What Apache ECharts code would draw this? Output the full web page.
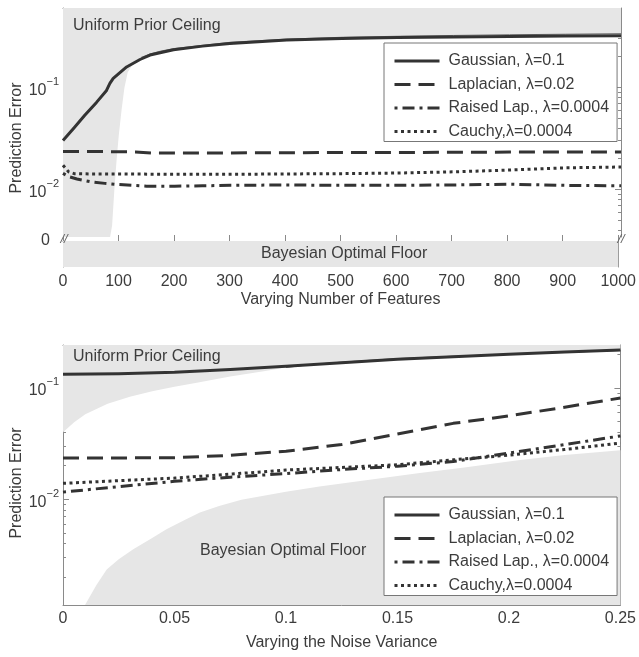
<!DOCTYPE html>
<html><head><meta charset="utf-8">
<script src="https://cdn.jsdelivr.net/npm/echarts@6/dist/echarts.min.js"></script>
<style>html,body{margin:0;padding:0;background:#fff}#c{width:639px;height:657px}</style>
</head><body><div id="c"></div>
<script>
// ---------- data ----------
const seriesNames = ['Gaussian, λ=0.1', 'Laplacian, λ=0.02', 'Raised Lap., λ=0.0004', 'Cauchy,λ=0.0004'];

// Top panel: varying number of features
const featX_gauss = [0, 20, 39, 60, 78, 84, 90, 114, 138, 156, 198, 250, 299, 401, 500, 600, 700, 800, 900, 1000];
const featGauss   = [0.030, 0.040, 0.053, 0.071, 0.093, 0.109, 0.122, 0.158, 0.187, 0.207, 0.233, 0.253, 0.269, 0.290, 0.300, 0.307, 0.311, 0.315, 0.318, 0.320];
const featX_lap   = [0, 50, 100, 130, 160, 200, 300, 400, 500, 600, 700, 800, 900, 1000];
const featLap     = [0.0234, 0.0234, 0.0233, 0.0232, 0.0226, 0.0226, 0.0227, 0.0228, 0.0229, 0.0229, 0.0230, 0.0231, 0.0232, 0.0232];
const featX_ral   = [0, 10, 25, 50, 75, 100, 150, 200, 250, 300, 400, 500, 600, 700, 800, 900, 1000];
const featRaised  = [0.0143, 0.0133, 0.0126, 0.0118, 0.0114, 0.0111, 0.0107, 0.0107, 0.0108, 0.0109, 0.0110, 0.0109, 0.0109, 0.0110, 0.0112, 0.0109, 0.0108];
const featX_cau   = [0, 10, 20, 50, 100, 200, 300, 400, 500, 600, 700, 800, 900, 1000];
const featCauchy  = [0.0172, 0.0148, 0.0142, 0.0141, 0.0141, 0.0140, 0.0140, 0.0141, 0.0142, 0.0144, 0.0148, 0.0154, 0.0162, 0.0165];
const featX_ceil  = [0, 84, 88, 92, 96, 100, 105, 110, 116, 125, 140, 156, 175, 200, 300, 400, 500, 600, 700, 800, 900, 1000];
const featCeiling = [0.003, 0.0033, 0.0044, 0.0098, 0.0192, 0.034, 0.060, 0.098, 0.140, 0.168, 0.196, 0.212, 0.226, 0.240, 0.276, 0.296, 0.309, 0.316, 0.322, 0.327, 0.331, 0.335];
const featX_floor = [0, 1000];
const featFloor   = [0, 0];

// Bottom panel: varying the noise variance
const noiseX      = [0, 0.025, 0.05, 0.075, 0.1, 0.125, 0.15, 0.175, 0.2, 0.225, 0.25];
const noiseGauss  = [0.132, 0.134, 0.138, 0.146, 0.156, 0.168, 0.180, 0.190, 0.200, 0.209, 0.218];
const noiseLap    = [0.0235, 0.0235, 0.0236, 0.0248, 0.0270, 0.0310, 0.0385, 0.0480, 0.0560, 0.0670, 0.0810];
const noiseRaised = [0.0116, 0.0130, 0.0145, 0.0158, 0.0170, 0.0185, 0.0198, 0.0218, 0.0260, 0.0310, 0.0370];
const noiseCauchy = [0.0139, 0.0147, 0.0155, 0.0168, 0.0183, 0.0193, 0.0204, 0.0226, 0.0249, 0.0280, 0.0320];
const noiseX_ceil  = [0, 0.005, 0.01, 0.02, 0.03, 0.04, 0.05, 0.06, 0.075, 0.09, 0.1, 0.11, 0.125, 0.15, 0.175, 0.2, 0.225, 0.25];
const noiseCeiling = [0.040, 0.049, 0.058, 0.072, 0.083, 0.093, 0.102, 0.111, 0.126, 0.141, 0.152, 0.161, 0.170, 0.183, 0.192, 0.200, 0.208, 0.216];
const noiseX_floor = [0.0098, 0.015, 0.0196, 0.025, 0.0315, 0.04, 0.0464, 0.055, 0.0614, 0.07, 0.08, 0.1, 0.115, 0.13, 0.16, 0.18, 0.205, 0.225, 0.25];
const noiseFloor   = [0.00112, 0.0017, 0.00235, 0.0029, 0.00356, 0.0045, 0.0054, 0.0066, 0.0076, 0.0087, 0.0099, 0.0117, 0.0130, 0.0143, 0.0172, 0.0193, 0.0225, 0.0250, 0.0276];

// tick values
const topMajor    = [0.01, 0.1];
const topMinor    = [0.004, 0.005, 0.006, 0.007, 0.008, 0.009, 0.02, 0.03, 0.04, 0.05, 0.06, 0.07, 0.08, 0.09, 0.2, 0.3, 0.4, 0.5];
const botMajor    = [0.01, 0.1];
const botMinor    = [0.002, 0.003, 0.004, 0.005, 0.006, 0.007, 0.008, 0.009, 0.02, 0.03, 0.04, 0.05, 0.06, 0.07, 0.08, 0.09, 0.2];

// ---------- styling ----------
const FONT = "'Liberation Sans', Arial, sans-serif";
const TXT = '#3c3c3c';
const AX = '#8a8a8a';
const LINE = '#333333';
const FILL = '#e6e6e6';
const styles = [
  {width: 3, type: 'solid'},
  {width: 3, type: [16, 8]},
  {width: 3, type: [3, 5, 12, 5]},
  {width: 3, type: [3, 3.5]}
];

const zip = (xs, ys) => xs.map((x, i) => [x, ys[i]]);

function supLabel(v) {
  const e = Math.round(Math.log10(v));
  return '{b|10}{s|−' + Math.abs(e) + '}';
}

const chart = echarts.init(document.getElementById('c'), null, {renderer: 'canvas'});

const L = 63, W = 558;
const xCommon = {
  type: 'value', splitLine: {show: false},
  axisLine: {show: true, lineStyle: {color: AX, width: 1}},
  axisTick: {show: true, inside: true, length: 6, lineStyle: {color: AX}},
  axisLabel: {show: true, color: TXT, fontFamily: FONT, fontSize: 16, formatter: v => String(v)},
  nameTextStyle: {color: TXT, fontFamily: FONT, fontSize: 16}
};
function logAxis(grid, pos, min, max, major, minor, labels) {
  const base = {
    type: 'log', logBase: 10, gridIndex: grid, position: pos, min: min, max: max,
    splitLine: {show: false}, minorTick: {show: false}
  };
  return [
    Object.assign({}, base, {
      axisLine: {show: true, lineStyle: {color: AX}},
      axisTick: {show: true, inside: true, length: 6, customValues: major, lineStyle: {color: AX}},
      axisLabel: labels ? {show: true, customValues: major, margin: 4, formatter: supLabel,
        color: TXT, fontFamily: FONT,
        rich: {b: {fontSize: 16, fontFamily: FONT, color: TXT, verticalAlign: 'bottom', lineHeight: 22},
               s: {fontSize: 11, fontFamily: FONT, color: TXT, verticalAlign: 'top', lineHeight: 22}}} : {show: false}
    }),
    Object.assign({}, base, {
      axisLine: {show: false},
      axisTick: {show: true, inside: true, length: 3, customValues: minor, lineStyle: {color: AX}},
      axisLabel: {show: false}
    })
  ];
}

const topMin = Math.pow(10, -2.469), topMax = Math.pow(10, -0.223);
const botMin = Math.pow(10, -2.948), botMax = Math.pow(10, -0.616);

const yAxes = [].concat(
  logAxis(0, 'left', topMin, topMax, topMajor, topMinor, true),   // 0,1
  logAxis(0, 'right', topMin, topMax, topMajor, topMinor, false), // 2,3
  [
    { type: 'value', gridIndex: 1, position: 'left', inverse: true, min: 0, max: 1, interval: 1,
      splitLine: {show: false}, axisLine: {show: true, lineStyle: {color: AX}}, axisTick: {show: false},
      axisLabel: {show: true, margin: 13, color: TXT, fontFamily: FONT, fontSize: 16,
        verticalAlign: 'middle', formatter: v => (v === 0 ? '0' : '')} },   // 4
    { type: 'value', gridIndex: 1, position: 'right', inverse: true, min: 0, max: 1,
      splitLine: {show: false}, axisLine: {show: true, lineStyle: {color: AX}}, axisTick: {show: false},
      axisLabel: {show: false} } // 5
  ],
  logAxis(2, 'left', botMin, botMax, botMajor, botMinor, true),   // 6,7
  logAxis(2, 'right', botMin, botMax, botMajor, botMinor, false)  // 8,9
);

const xAxes = [
  Object.assign({}, xCommon, {gridIndex: 0, position: 'top', min: 0, max: 1000, interval: 100, axisLabel: {show: false}}),
  Object.assign({}, xCommon, {gridIndex: 1, position: 'bottom', min: 0, max: 1000, interval: 100,
    axisLabel: Object.assign({}, xCommon.axisLabel, {margin: 7}),
    name: 'Varying Number of Features', nameLocation: 'middle', nameGap: 25}),
  Object.assign({}, xCommon, {gridIndex: 2, position: 'bottom', min: 0, max: 0.25, interval: 0.05,
    axisLabel: Object.assign({}, xCommon.axisLabel, {margin: 6}),
    name: 'Varying the Noise Variance', nameLocation: 'middle', nameGap: 30}),
  Object.assign({}, xCommon, {gridIndex: 2, position: 'top', min: 0, max: 0.25, interval: 0.05, axisLabel: {show: false}})
];

function lineSeries(name, data, xi, yi, k) {
  return {
    name: name, type: 'line', xAxisIndex: xi, yAxisIndex: yi, data: data,
    symbol: 'none', showSymbol: false, color: LINE, z: 5, clip: true,
    lineStyle: {color: LINE, width: styles[k].width, type: styles[k].type, cap: 'butt', join: 'round'}
  };
}
function areaSeries(data, xi, yi, origin) {
  return {
    name: 'region', type: 'line', xAxisIndex: xi, yAxisIndex: yi, data: data,
    symbol: 'none', showSymbol: false, z: 1, clip: true, silent: true,
    lineStyle: {width: 0, opacity: 0}, areaStyle: {color: FILL, opacity: 1, origin: origin}
  };
}
function thinSeries(data, xi, yi) {
  return {
    name: 'edge', type: 'line', xAxisIndex: xi, yAxisIndex: yi, data: data,
    symbol: 'none', showSymbol: false, z: 3, clip: true, silent: true,
    lineStyle: {width: 1, color: '#666'}
  };
}

const featCeilData = zip(featX_ceil, featCeiling);
const noiseCeilData = zip(noiseX_ceil, noiseCeiling);

const series = [
  areaSeries(featCeilData, 0, 0, 'end'),
  thinSeries(featCeilData.filter(p => p[0] >= 140), 0, 0),
  areaSeries(zip(featX_floor, featFloor), 1, 4, 'end'),
  lineSeries(seriesNames[0], zip(featX_gauss, featGauss), 0, 0, 0),
  lineSeries(seriesNames[1], zip(featX_lap, featLap), 0, 0, 1),
  lineSeries(seriesNames[2], zip(featX_ral, featRaised), 0, 0, 2),
  lineSeries(seriesNames[3], zip(featX_cau, featCauchy), 0, 0, 3),

  areaSeries(noiseCeilData, 2, 6, 'end'),
  thinSeries(noiseCeilData.filter(p => p[0] >= 0.1), 2, 6),
  areaSeries(zip(noiseX_floor, noiseFloor), 2, 6, 'start'),
  lineSeries(seriesNames[0], zip(noiseX, noiseGauss), 2, 6, 0),
  lineSeries(seriesNames[1], zip(noiseX, noiseLap), 2, 6, 1),
  lineSeries(seriesNames[2], zip(noiseX, noiseRaised), 2, 6, 2),
  lineSeries(seriesNames[3], zip(noiseX, noiseCauchy), 2, 6, 3)
];

function legendAt(top) {
  return {
    data: seriesNames, orient: 'vertical', left: 384, top: top,
    itemWidth: 45, itemHeight: 14, itemGap: 7.5,
    padding: [10, 8, 2, 9],
    itemStyle: {opacity: 0, borderWidth: 0},
    lineStyle: {width: 3},
    backgroundColor: '#fff', borderColor: '#777', borderWidth: 1, borderRadius: 0,
    selectedMode: false, z: 10,
    textStyle: {color: TXT, fontFamily: FONT, fontSize: 16, padding: [0, 0, 0, 4]}
  };
}

const textStyle = {font: '16px ' + FONT, fill: TXT};
const graphic = [
  {type: 'text', left: 73, top: 18, z: 20, style: Object.assign({text: 'Uniform Prior Ceiling'}, textStyle)},
  {type: 'text', left: 73, top: 349, z: 20, style: Object.assign({text: 'Uniform Prior Ceiling'}, textStyle)},
  {type: 'text', left: 261, top: 246, z: 20, style: Object.assign({text: 'Bayesian Optimal Floor'}, textStyle)},
  {type: 'text', left: 200, top: 543, z: 20, style: Object.assign({text: 'Bayesian Optimal Floor'}, textStyle)},
  {type: 'text', x: 17, y: 138, rotation: Math.PI / 2, z: 20,
   style: Object.assign({text: 'Prediction Error', align: 'center', verticalAlign: 'middle'}, textStyle)},
  {type: 'text', x: 17, y: 483, rotation: Math.PI / 2, z: 20,
   style: Object.assign({text: 'Prediction Error', align: 'center', verticalAlign: 'middle'}, textStyle)},
  {type: 'text', x: 64, y: 239, z: 20,
   style: {text: '//', align: 'center', verticalAlign: 'middle', font: 'italic 13px ' + FONT, fill: '#666'}},
  {type: 'text', x: 621, y: 239, z: 20,
   style: {text: '//', align: 'center', verticalAlign: 'middle', font: 'italic 13px ' + FONT, fill: '#666'}}
];

chart.setOption({
  animation: false,
  backgroundColor: '#fff',
  grid: [
    {left: L, width: W, top: 8, height: 229},
    {left: L, width: W, top: 241, height: 26},
    {left: L, width: W, top: 345, height: 260}
  ],
  xAxis: xAxes,
  yAxis: yAxes,
  legend: [legendAt(43), legendAt(497)],
  graphic: graphic,
  series: series
});
</script></body></html>
